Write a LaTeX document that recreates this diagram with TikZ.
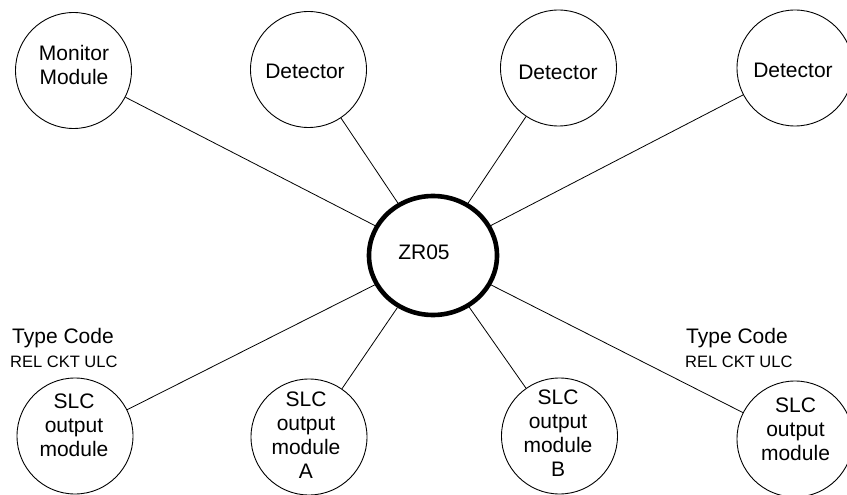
\documentclass[tikz,border=0pt]{standalone}
\usepackage{fontspec}
\setmainfont{Liberation Sans}
\usetikzlibrary{shapes.geometric}
\tikzset{
  dev/.style={circle, draw=black, line width=0.9pt, minimum size=116pt, inner sep=0pt},
  hub/.style={ellipse, draw=black, line width=4.6pt, minimum width=128pt, minimum height=119pt, inner sep=0pt},
  lbl/.style={align=center, inner sep=0pt, font=\fontsize{21}{24}\selectfont},
  tc/.style={anchor=base west, inner sep=0pt, font=\fontsize{21}{24}\selectfont},
  tcs/.style={anchor=base west, inner sep=0pt, font=\fontsize{16.5}{19}\selectfont},
  wire/.style={draw=black, line width=0.8pt}
}
\begin{document}
\begin{tikzpicture}[x=1pt, y=-1pt]
\useasboundingbox (0,0) rectangle (847,495);
% device circles
\node[dev] (mon) at (73.5,70.5) {};
\node[dev] (det1) at (308.5,69.5) {};
\node[dev] (det2) at (558.5,68) {};
\node[dev] (det3) at (795,68) {};
\node[dev] (slc1) at (75,436) {};
\node[dev] (slca) at (309,437) {};
\node[dev] (slcb) at (559.5,436) {};
\node[dev] (slc2) at (795,439) {};
\node[hub] (zr) at (433,255.5) {};
% connectors
\draw[wire] (zr) -- (mon);
\draw[wire] (zr) -- (det1);
\draw[wire] (zr) -- (det2);
\draw[wire] (zr) -- (det3);
\draw[wire] (zr) -- (slc1);
\draw[wire] (zr) -- (slca);
\draw[wire] (zr) -- (slcb);
\draw[wire] (zr) -- (slc2);
% labels
\node[lbl] (tmon) at (74,65) {Monitor\\Module};
\node[lbl] (tdet1) at (305,71) {Detector};
\node[lbl] (tdet2) at (558,72.5) {Detector};
\node[lbl] (tdet3) at (793,70) {Detector};
\node[lbl] (tzr) at (424,252) {ZR05};
\node[lbl] (tslc1) at (74,425) {SLC\\output\\module};
\node[lbl] (tslca) at (306,435) {SLC\\output\\module\\A};
\node[lbl] (tslcb) at (558,433) {SLC\\output\\module\\B};
\node[lbl] (tslc2) at (795.5,429) {SLC\\output\\module};
% type code notes
\node[tc] (tc1) at (12,343) {Type Code};
\node[tcs] (rc1) at (10,367) {REL CKT ULC};
\node[tc] (tc2) at (686,343) {Type Code};
\node[tcs] (rc2) at (685,367) {REL CKT ULC};
\end{tikzpicture}
\end{document}
